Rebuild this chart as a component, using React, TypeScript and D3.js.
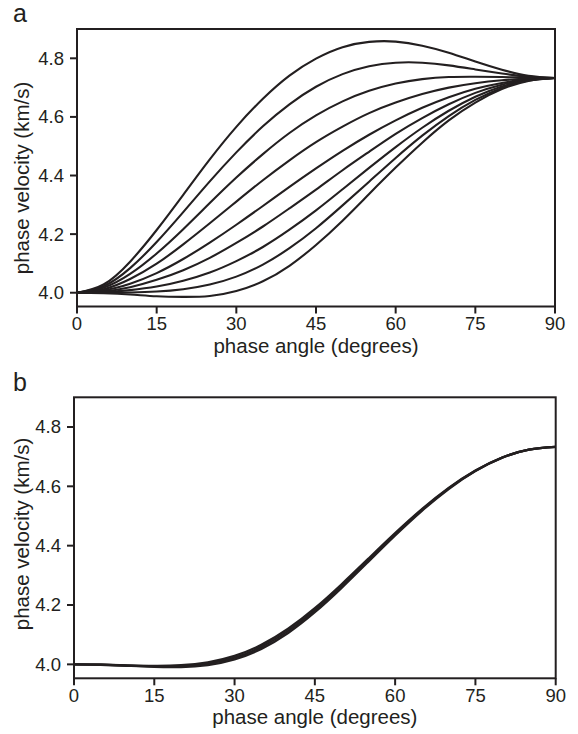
import React from "react";
import * as d3 from "d3";

// phase angle samples (degrees)
const ANGLES = [0, 5, 10, 15, 20, 25, 30, 35, 40, 45, 50, 55, 60, 65, 70, 75, 80, 85, 90];

// panel a: nine phase-velocity curves (km/s), top to bottom
const A1 = [4.0, 4.028, 4.106, 4.214, 4.334, 4.455, 4.566, 4.662, 4.741, 4.799, 4.838, 4.856, 4.857, 4.843, 4.819, 4.789, 4.761, 4.740, 4.733];
const A2 = [4.0, 4.022, 4.084, 4.173, 4.275, 4.380, 4.479, 4.568, 4.643, 4.703, 4.746, 4.773, 4.785, 4.785, 4.776, 4.762, 4.748, 4.737, 4.733];
const A3 = [4.0, 4.017, 4.064, 4.134, 4.217, 4.306, 4.393, 4.473, 4.545, 4.605, 4.653, 4.689, 4.714, 4.729, 4.736, 4.737, 4.736, 4.734, 4.733];
const A4 = [4.0, 4.012, 4.047, 4.099, 4.165, 4.237, 4.311, 4.384, 4.452, 4.514, 4.567, 4.613, 4.649, 4.678, 4.700, 4.715, 4.725, 4.731, 4.733];
const A5 = [4.0, 4.008, 4.031, 4.067, 4.115, 4.171, 4.232, 4.296, 4.361, 4.424, 4.484, 4.539, 4.588, 4.631, 4.667, 4.696, 4.716, 4.729, 4.733];
const A6 = [4.0, 4.005, 4.019, 4.044, 4.077, 4.119, 4.170, 4.226, 4.288, 4.352, 4.418, 4.481, 4.542, 4.596, 4.643, 4.682, 4.710, 4.727, 4.733];
const A7 = [4.0, 4.002, 4.009, 4.021, 4.041, 4.069, 4.108, 4.156, 4.215, 4.281, 4.353, 4.426, 4.497, 4.563, 4.621, 4.669, 4.704, 4.726, 4.733];
const A8 = [4.0, 4.000, 4.001, 4.004, 4.012, 4.028, 4.055, 4.096, 4.152, 4.220, 4.298, 4.379, 4.460, 4.536, 4.603, 4.658, 4.699, 4.724, 4.733];
const A9 = [4.0, 3.998, 3.994, 3.988, 3.986, 3.989, 4.006, 4.039, 4.092, 4.163, 4.246, 4.337, 4.427, 4.512, 4.588, 4.649, 4.695, 4.723, 4.733];

// panel b: nearly coincident curves forming one band
const B1 = [4.0, 3.999, 3.9968, 3.9951, 3.9971, 4.0068, 4.0284, 4.0656, 4.1198, 4.1892, 4.2699, 4.3561, 4.4423, 4.5232, 4.5947, 4.6534, 4.6971, 4.7238, 4.7329];
const B2 = [4.0, 3.9988, 3.996, 3.9933, 3.994, 4.0023, 4.0226, 4.0589, 4.1127, 4.1824, 4.2638, 4.3511, 4.4384, 4.5204, 4.5929, 4.6524, 4.6966, 4.7237, 4.7329];
const B3 = [4.0, 3.9986, 3.9952, 3.9915, 3.9909, 3.9978, 4.0168, 4.0522, 4.1056, 4.1756, 4.2577, 4.3461, 4.4345, 4.5176, 4.5911, 4.6514, 4.6961, 4.7236, 4.7329];

const X_TICKS = [0, 15, 30, 45, 60, 75, 90];
const Y_TICKS = [4.0, 4.2, 4.4, 4.6, 4.8];
const X_DOMAIN = [0, 90];
const Y_DOMAIN = [3.953, 4.9];

const INK = "#231f20";
const FONT = "'Liberation Sans', Arial, Helvetica, sans-serif";

type PanelProps = {
  letter: string;
  series: number[][];
  left: number;
  right: number;
  top: number;
  bottom: number;
  letterY: number;
  yTitleY: number;
  lineWidth: number;
};

function Panel({ letter, series, left, right, top, bottom, letterY, yTitleY, lineWidth }: PanelProps) {
  const x = d3.scaleLinear().domain(X_DOMAIN).range([left, right]);
  const y = d3.scaleLinear().domain(Y_DOMAIN).range([bottom, top]);
  const line = d3
    .line<number>()
    .x((_, i) => x(ANGLES[i]))
    .y((d) => y(d))
    .curve(d3.curveNatural);
  const tick = 7;
  return (
    <g>
      <text x={13} y={letterY} fontSize={25} fontFamily={FONT} fill={INK}>
        {letter}
      </text>
      {series.map((s, i) => (
        <path key={i} d={line(s) || ""} fill="none" stroke={INK} strokeWidth={lineWidth} strokeLinejoin="round" />
      ))}
      <rect x={left} y={top} width={right - left} height={bottom - top} fill="none" stroke={INK} strokeWidth={2} />
      {Y_TICKS.map((t) => (
        <g key={"y" + t}>
          <line x1={left - tick} x2={left} y1={y(t)} y2={y(t)} stroke={INK} strokeWidth={2} />
          <text x={left - tick - 6} y={y(t)} dy="0.35em" textAnchor="end" fontSize={18.5} fontFamily={FONT} fill={INK}>
            {t.toFixed(1)}
          </text>
        </g>
      ))}
      {X_TICKS.map((t) => (
        <g key={"x" + t}>
          <line x1={x(t)} x2={x(t)} y1={bottom} y2={bottom + tick} stroke={INK} strokeWidth={2} />
          <text x={x(t)} y={bottom + 23.5} textAnchor="middle" fontSize={18.5} fontFamily={FONT} fill={INK}>
            {t}
          </text>
        </g>
      ))}
      <text x={(left + right) / 2} y={bottom + 46} textAnchor="middle" fontSize={20.5} fontFamily={FONT} fill={INK}>
        phase angle (degrees)
      </text>
      <text
        transform={`translate(29,${yTitleY}) rotate(-90)`}
        textAnchor="middle"
        fontSize={20.5}
        fontFamily={FONT}
        fill={INK}
      >
        phase velocity (km/s)
      </text>
    </g>
  );
}

export default function App() {
  return (
    <svg width={578} height={734} style={{ position: "absolute", left: 0, top: 0, background: "#fff" }}>
      <rect x={0} y={0} width={578} height={734} fill="#fff" />
      <Panel
        letter="a"
        series={[A1, A2, A3, A4, A5, A6, A7, A8, A9]}
        left={77}
        right={555}
        top={29}
        bottom={306.5}
        letterY={22}
        yTitleY={178}
        lineWidth={2.1}
      />
      <Panel
        letter="b"
        series={[B1, B2, B3]}
        left={74}
        right={555.7}
        top={397.3}
        bottom={678.3}
        letterY={391}
        yTitleY={534}
        lineWidth={2.3}
      />
    </svg>
  );
}
